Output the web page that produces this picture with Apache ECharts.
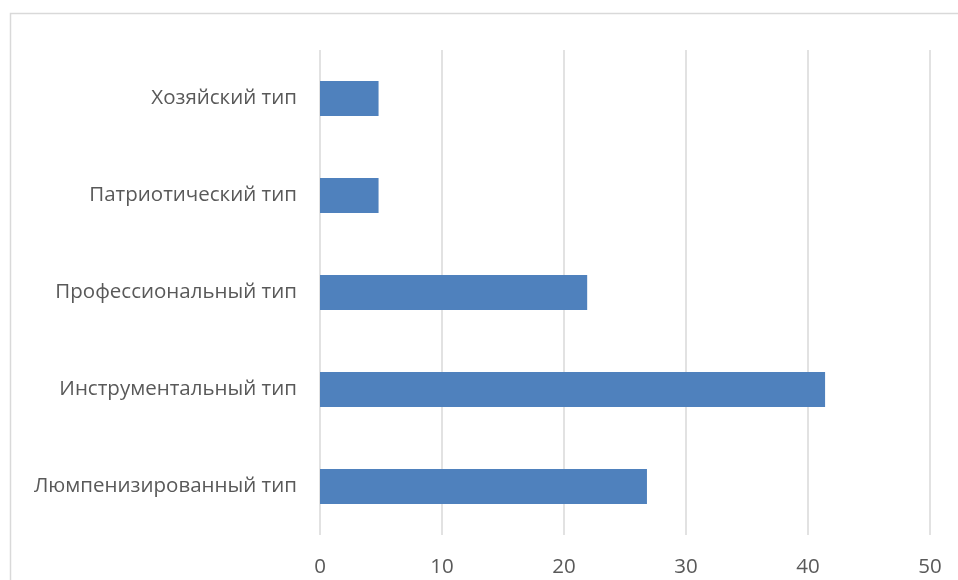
<!DOCTYPE html>
<html>
<head>
<meta charset="utf-8">
<script src="https://cdn.jsdelivr.net/npm/echarts@6/dist/echarts.min.js"></script>
<style>
  html, body { margin: 0; padding: 0; background: #fff; }
  #chart { width: 958px; height: 580px; }
</style>
</head>
<body>
<div id="chart"></div>
<script>
// categories, top to bottom
var types = ['Хозяйский тип', 'Патриотический тип', 'Профессиональный тип', 'Инструментальный тип', 'Люмпенизированный тип'];
// values
var values = [4.8, 4.8, 21.9, 41.4, 26.8];
// x axis ticks
var xMin = 0, xMax = 50, xStep = 10;

var chart = echarts.init(document.getElementById('chart'));
var font = 'Open Sans, Noto Sans, sans-serif';

var option = {
  animation: false,
  graphic: [{
    type: 'rect',
    shape: { x: 10.5, y: 13.5, width: 960, height: 600 },
    style: { fill: null, stroke: '#d9d9d9', lineWidth: 1.5 },
    silent: true
  }],
  grid: { left: 320, right: 28, top: 50, bottom: 45, containLabel: false },
  xAxis: {
    type: 'value',
    min: xMin, max: xMax, interval: xStep,
    axisLine: { show: false },
    axisTick: { show: false },
    axisLabel: { color: '#595959', fontSize: 20.5, fontFamily: font, margin: 22 },
    splitLine: { lineStyle: { color: '#d9d9d9', width: 1.5 } }
  },
  yAxis: {
    type: 'category',
    data: types,
    inverse: true,
    axisLine: { show: false },
    axisTick: { show: false },
    axisLabel: { color: '#595959', fontSize: 20.5, fontFamily: font, margin: 23 }
  },
  series: [{
    type: 'bar',
    data: values,
    barWidth: '36%',
    itemStyle: { color: '#4f81bd' }
  }]
};
chart.setOption(option);
</script>
</body>
</html>
